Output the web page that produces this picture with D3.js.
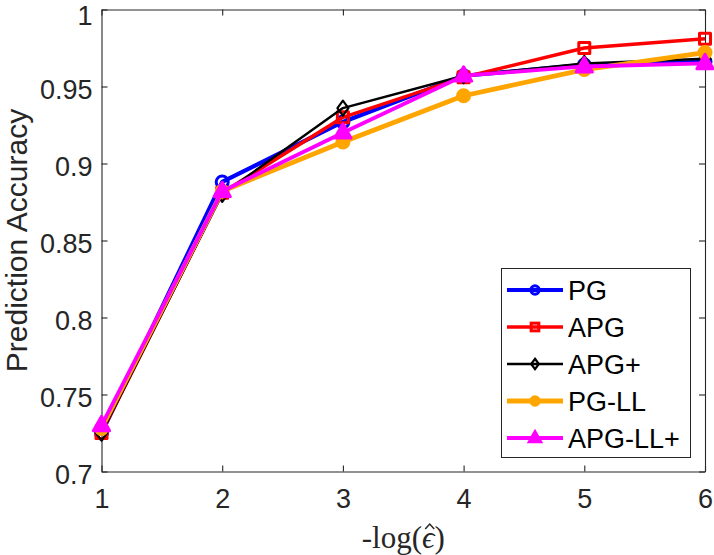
<!DOCTYPE html>
<html><head><meta charset="utf-8">
<script src="https://cdn.jsdelivr.net/npm/d3@7"></script>
<style>body{margin:0;background:#fff}svg{display:block}</style>
</head><body>
<script>
const xValues = [1, 2, 3, 4, 5, 6];
const yTicks = [0.7, 0.75, 0.8, 0.85, 0.9, 0.95, 1];
const seriesNames = ["PG", "APG", "APG+", "PG-LL", "APG-LL+"];
const pg      = [0.725, 0.888, 0.927, 0.957, 0.964, 0.966];
const apg     = [0.725, 0.881, 0.930, 0.956, 0.975, 0.981];
const apgPlus = [0.725, 0.880, 0.936, 0.957, 0.965, 0.968];
const pgLL    = [0.728, 0.882, 0.914, 0.944, 0.961, 0.972];
const apgLLPlus = [0.730, 0.882, 0.920, 0.957, 0.963, 0.965];

const W = 714, H = 555;
const m = {left: 101.5, right: W - 705, top: 9.5, bottom: H - 471.5};
const svg = d3.select("body").append("svg").attr("width", W).attr("height", H);
const x = d3.scaleLinear().domain([1, 6]).range([m.left, W - m.right]);
const y = d3.scaleLinear().domain([0.7, 1]).range([H - m.bottom, m.top]);

const styles = [
  {data: pg, color: "#0000ff", w: 4.2, marker: "circle", fill: false},
  {data: apg, color: "#ff0000", w: 3.4, marker: "square", fill: false},
  {data: apgPlus, color: "#000000", w: 2.4, marker: "diamond", fill: false},
  {data: pgLL, color: "#ffa500", w: 4.8, marker: "circle", fill: true},
  {data: apgLLPlus, color: "#ff00ff", w: 3.8, marker: "triangle", fill: true}
];

const axisColor = "#262626";
const font = "'Liberation Sans', Arial, Helvetica, sans-serif";
const tickFs = "27px";

// axes
const gx = svg.append("g").attr("transform", `translate(0,${H - m.bottom})`)
  .call(d3.axisBottom(x).tickValues(xValues).tickFormat(d3.format("d")).tickSizeInner(-6).tickSizeOuter(0).tickPadding(17));
const gxTop = svg.append("g").attr("transform", `translate(0,${m.top})`)
  .call(d3.axisTop(x).tickValues(xValues).tickFormat("").tickSizeInner(-6).tickSizeOuter(0));
const gy = svg.append("g").attr("transform", `translate(${m.left},0)`)
  .call(d3.axisLeft(y).tickValues(yTicks).tickFormat(d => d3.format("")(+d.toFixed(2))).tickSizeInner(-6).tickSizeOuter(0).tickPadding(9));
const gyR = svg.append("g").attr("transform", `translate(${W - m.right},0)`)
  .call(d3.axisRight(y).tickValues(yTicks).tickFormat("").tickSizeInner(-6).tickSizeOuter(0));
[gx, gxTop, gy, gyR].forEach(g => {
  g.selectAll("path,line").attr("stroke", axisColor).attr("stroke-width", 1.1);
  g.selectAll("text").attr("fill", axisColor).style("font-family", font).style("font-size", tickFs);
});
gy.selectAll("text").attr("dy", d => d === 1 ? "0.55em" : "0.45em");
gx.selectAll("text").attr("dy", "0.72em");

// series
const line = d3.line().x((d, i) => x(xValues[i])).y(d => y(d));
function drawMarker(g, type, cx, cy, k) {
  k = k || 1;
  if (type === "circle") {
    g.append("circle").attr("cx", cx).attr("cy", cy).attr("r", 6 * k);
  } else if (type === "square") {
    const a = 5.5 * k;
    g.append("rect").attr("x", cx - a).attr("y", cy - a).attr("width", 2 * a).attr("height", 2 * a);
  } else if (type === "diamond") {
    const a = 7.5 * k, b = 5.5 * k;
    g.append("path").attr("d", `M${cx},${cy - a}L${cx + b},${cy}L${cx},${cy + a}L${cx - b},${cy}Z`);
  } else if (type === "triangle") {
    const a = 9 * k;
    g.append("path").attr("d", `M${cx},${cy - a}L${cx + a * 0.9},${cy + a * 0.6}L${cx - a * 0.9},${cy + a * 0.6}Z`);
  }
}
styles.forEach(s => {
  const g = svg.append("g");
  g.append("path").datum(s.data).attr("d", line).attr("fill", "none")
    .attr("stroke", s.color).attr("stroke-width", s.w).attr("stroke-linejoin", "round");
  const mg = g.append("g").attr("fill", s.fill ? s.color : "none").attr("stroke", s.color)
    .attr("stroke-width", s.marker === "diamond" ? 2.2 : 3).attr("stroke-linejoin", "round");
  s.data.forEach((v, i) => drawMarker(mg, s.marker, x(xValues[i]), y(v)));
});

// legend
const lg = svg.append("g");
lg.append("rect").attr("x", 501.5).attr("y", 268.5).attr("width", 189).attr("height", 189)
  .attr("fill", "#fff").attr("stroke", axisColor).attr("stroke-width", 1);
seriesNames.forEach((name, i) => {
  const s = styles[i];
  const cy = 290 + i * 37;
  lg.append("line").attr("x1", 507).attr("x2", 563).attr("y1", cy).attr("y2", cy)
    .attr("stroke", s.color).attr("stroke-width", s.w);
  const mg = lg.append("g").attr("fill", s.fill ? s.color : "none").attr("stroke", s.color)
    .attr("stroke-width", s.marker === "diamond" ? 2.2 : 3);
  drawMarker(mg, s.marker, 535, cy, 0.7);
  lg.append("text").attr("x", 568).attr("y", cy).attr("dy", "0.36em").text(name)
    .attr("fill", "#000").style("font-family", font).style("font-size", tickFs);
});

// labels
svg.append("text").attr("transform", `translate(27,${(m.top + H - m.bottom) / 2}) rotate(-90)`)
  .attr("text-anchor", "middle").text("Prediction Accuracy")
  .attr("fill", axisColor).style("font-family", font).style("font-size", "30px");
const xl = svg.append("text").attr("x", (m.left + W - m.right) / 2).attr("y", 548)
  .attr("text-anchor", "middle").attr("fill", axisColor)
  .style("font-family", "'Liberation Serif', 'DejaVu Serif', serif").style("font-size", "31px");
xl.append("tspan").text("-log(");
xl.append("tspan").style("font-style", "italic").text("\u03F5");
xl.append("tspan").text(")");
// hat over epsilon
const ext = xl.node().getExtentOfChar("-log(".length);
const hx = ext.x + ext.width / 2 + 1.5;
const hy = 524;
svg.append("path").attr("d", `M${hx - 4.5},${hy + 5}L${hx},${hy}L${hx + 4.5},${hy + 5}`)
  .attr("fill", "none").attr("stroke", axisColor).attr("stroke-width", 1.5);
</script>
</body></html>
